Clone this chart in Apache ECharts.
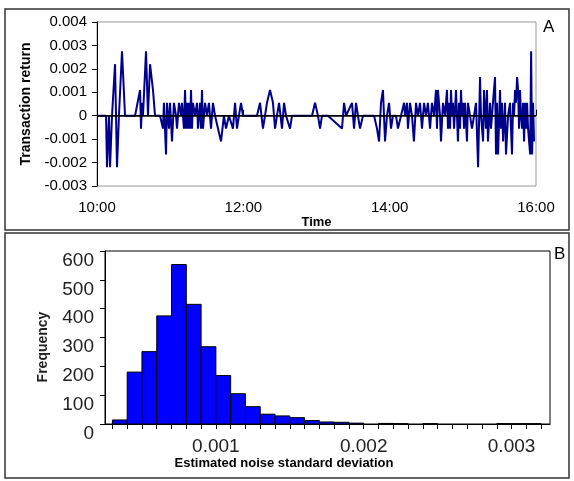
<!DOCTYPE html>
<html>
<head>
<meta charset="utf-8">
<script src="https://cdn.jsdelivr.net/npm/echarts@6/dist/echarts.min.js"></script>
<style>
  html, body { margin: 0; padding: 0; background: #fff; }
  #main { width: 574px; height: 481px; }
</style>
</head>
<body>
<div id="main"></div>
<script>
// panel A: [minutes after 10:00, transaction return]
var tradeReturns = [
  [0, 0], [7.4, 0], [8.2, -0.0022], [9.8, 0], [10.7, -0.0022], [12.3, 0],
  [14.8, 0.0022], [15.6, 0], [16.4, -0.0022], [18.0, 0], [20.5, 0.00275], [23.0, 0],
  [31.2, 0], [35.3, 0.0011], [36.1, -0.00055], [36.9, 0.00055], [37.7, 0],
  [40.2, 0.00275], [41.8, 0], [43.5, 0.0022], [45.9, 0.0011], [47.6, 0], [51.7, 0],
  [54.1, -0.00055], [54.9, 0.00055], [56.6, -0.00165], [57.4, 0.00055], [59.0, -0.00055],
  [59.9, 0.00055], [61.5, -0.0011], [63.1, 0.00055], [64.8, 0], [65.6, -0.00055],
  [67.2, 0.00055], [68.9, 0], [69.7, 0.00055], [71.3, -0.00055], [72.2, 0.0011],
  [73.0, -0.00055], [73.8, 0.00055], [74.6, -0.00055], [75.4, 0.00055], [76.3, -0.00055],
  [77.1, 0.0011], [77.9, -0.00055], [78.7, 0.00055], [80.4, 0], [82.0, 0.00055],
  [82.8, -0.00055], [84.5, 0.00055], [85.3, -0.00055], [86.1, 0.0011], [86.9, -0.00055],
  [88.6, 0.00055], [90.2, 0], [91.8, 0.00055], [93.5, -0.00055], [95.1, 0.00055],
  [96.8, 0], [101.7, -0.0011], [104.1, 0], [105.8, -0.00055], [108.2, 0],
  [111.5, -0.00055], [113.2, 0.00055], [114.8, -0.00055], [116.4, 0], [118.1, 0.00055],
  [119.7, 0], [131.2, 0], [133.7, 0.00055], [136.1, -0.00055], [139.4, 0.00055],
  [141.9, 0.0011], [144.3, 0.00055], [146.0, -0.00055], [147.6, 0], [149.3, 0.00055],
  [151.7, -0.00055], [153.4, 0.00055], [155.0, 0], [158.3, -0.00055], [159.9, 0],
  [176.3, 0], [178.8, 0.00055], [181.2, 0], [182.9, -0.00055], [184.5, 0], [189.4, 0],
  [200.9, -0.00055], [202.6, 0.00055], [204.2, 0], [209.1, 0.00055], [210.8, -0.00055],
  [212.4, 0.00055], [214.0, 0], [215.7, -0.00055], [218.1, 0], [227.2, 0],
  [229.6, -0.00055], [231.3, -0.0011], [232.9, 0.00055], [234.5, 0.0011], [236.2, -0.0011],
  [237.8, 0], [239.5, 0.00055], [241.1, -0.00055], [242.7, 0], [245.2, 0],
  [246.8, -0.00055], [249.3, 0], [251.8, 0.00055], [252.6, 0], [254.2, 0.00055],
  [255.0, -0.00055], [256.7, 0.00055], [258.3, 0], [259.9, -0.0011], [261.6, 0.00055],
  [263.2, 0], [264.9, 0.00055], [266.5, -0.00055], [268.2, 0.00055], [269.8, 0],
  [271.4, 0.00055], [273.1, -0.00055], [274.7, 0.00055], [276.4, 0], [278.0, 0.0011],
  [278.8, -0.00055], [279.6, 0.0011], [281.3, 0], [282.1, -0.0011], [283.7, 0.00055],
  [285.4, 0], [287.0, 0.0011], [287.8, -0.00055], [288.7, 0.00055], [289.5, -0.00055],
  [290.3, 0.0011], [291.1, 0], [291.9, 0.00055], [292.8, -0.00055], [294.4, 0.0011],
  [295.2, 0], [296.0, -0.0011], [296.9, 0.00055], [297.7, -0.00055], [298.5, 0.0011],
  [299.3, 0], [300.1, 0.00055], [301.0, -0.00055], [301.8, 0.00055], [303.4, -0.0011],
  [304.2, 0.00055], [305.9, 0], [307.5, -0.00055], [309.2, 0], [310.8, 0.00055],
  [312.5, -0.0022], [314.1, 0.00165], [314.9, 0], [316.6, -0.0011], [317.4, 0.0011],
  [319.0, -0.00055], [319.8, 0.0011], [320.6, -0.0011], [322.3, 0.00055], [323.1, -0.00055],
  [324.7, 0.00055], [326.4, 0.00165], [327.2, -0.00165], [328.0, 0.00055], [328.9, -0.00165],
  [330.5, 0.0011], [331.3, -0.00055], [332.1, 0.00055], [333.0, -0.0011], [334.6, 0.00055],
  [335.4, -0.00165], [337.1, 0], [338.7, 0.00055], [339.5, -0.00055], [340.3, -0.00165],
  [341.2, 0.00055], [342.0, 0], [342.8, 0.0011], [343.6, 0.00055], [344.5, 0.00165],
  [345.3, 0.0011], [346.1, -0.00055], [346.9, 0.0011], [347.7, 0], [348.6, -0.00055],
  [349.4, 0.00055], [350.2, -0.0011], [351.0, 0.00055], [351.9, -0.00055], [352.7, 0.00055],
  [353.5, -0.00055], [355.2, -0.00165], [356.0, 0.00275], [356.8, -0.00165], [357.6, 0.00055],
  [358.4, -0.0011]
];
var timeTicks = [0, 120, 240, 360];
var timeLabels = ['10:00', '12:00', '14:00', '16:00'];

// panel B: histogram
var binStart = [0.0003, 0.0004, 0.0005, 0.0006, 0.0007, 0.0008, 0.0009, 0.0010, 0.0011, 0.0012,
  0.0013, 0.0014, 0.0015, 0.0016, 0.0017, 0.0018, 0.0019, 0.0021, 0.0022, 0.0024,
  0.0029, 0.0030, 0.0031];
var binCount = [14, 180, 251, 375, 553, 415, 268, 168, 105, 60,
  34, 28, 22, 12, 7, 6, 3, 2, 1, 1,
  1, 1, 1];
var binWidth = 0.0001;
var histTicks = [];
for (var k = 3; k <= 32; k++) histTicks.push(k / 10000);
var histLabels = [0.001, 0.002, 0.003];

var histData = binStart.map(function (s, i) { return [s, s + binWidth, binCount[i]]; });

var myChart = echarts.init(document.getElementById('main'), null, { renderer: 'canvas' });

var option = {
  animation: false,
  backgroundColor: '#fff',
  textStyle: { fontFamily: 'Liberation Sans' },
  graphic: [
    { type: 'rect', shape: { x: 5, y: 9, width: 564, height: 221 }, style: { fill: null, stroke: '#333', lineWidth: 1.5 } },
    { type: 'rect', shape: { x: 5, y: 233, width: 564, height: 245 }, style: { fill: null, stroke: '#333', lineWidth: 1.5 } },
    { type: 'text', left: 543, top: 19, style: { text: 'A', font: '17px Liberation Sans', fill: '#000' } },
    { type: 'text', left: 554, top: 246, style: { text: 'B', font: '17px Liberation Sans', fill: '#000' } },
    { type: 'text', x: 284, y: 463, style: { text: 'Estimated noise standard deviation', font: 'bold 13px Liberation Sans', fill: '#000', align: 'center', verticalAlign: 'middle' } },
    { type: 'text', x: 43, y: 347, rotation: Math.PI / 2, style: { text: 'Frequency', font: 'bold 14px Liberation Sans', fill: '#222', align: 'center', verticalAlign: 'middle' } }
  ],
  grid: [
    { left: 97, top: 22, width: 439, height: 164, show: true, borderColor: '#999', borderWidth: 1 },
    { left: 105, top: 251, width: 445, height: 173, show: true, borderColor: '#000', borderWidth: 1 }
  ],
  xAxis: [
    {
      gridIndex: 0, type: 'value', min: 0, max: 360, interval: 120,
      name: 'Time', nameLocation: 'middle', nameGap: 29,
      nameTextStyle: { fontWeight: 'bold', fontSize: 13, color: '#000' },
      axisLine: { lineStyle: { color: '#000', width: 1 } },
      axisTick: { inside: true, length: 6, lineStyle: { color: '#000' } },
      axisLabel: {
        fontSize: 15, color: '#000', margin: 14,
        formatter: function (v) { return timeLabels[timeTicks.indexOf(v)] || ''; }
      },
      splitLine: { show: false }
    },
    {
      gridIndex: 1, type: 'value', min: 0.00025, max: 0.00326,
      axisLine: { lineStyle: { color: '#000', width: 1 } },
      axisTick: { customValues: histTicks, length: 5, lineStyle: { color: '#000' } },
      axisLabel: {
        customValues: histLabels, fontSize: 19, color: '#222', margin: 13,
        formatter: function (v) { return v.toFixed(3); }
      },
      splitLine: { show: false }
    }
  ],
  yAxis: [
    {
      gridIndex: 0, type: 'value', min: -0.003, max: 0.004, interval: 0.001,
      name: 'Transaction return', nameLocation: 'middle', nameGap: 62,
      nameTextStyle: { fontWeight: 'bold', fontSize: 14, color: '#000' },
      axisLine: { show: true, lineStyle: { color: '#000', width: 1 } },
      axisTick: { show: true, length: 5, lineStyle: { color: '#000' } },
      axisLabel: {
        fontSize: 15, color: '#000', margin: 10,
        formatter: function (v) { return Math.abs(v) < 1e-9 ? '0' : v.toFixed(3); }
      },
      splitLine: { show: false }
    },
    {
      gridIndex: 1, type: 'value', min: 0, max: 600, interval: 100,
      axisLine: { show: true, lineStyle: { color: '#000', width: 1 } },
      axisTick: { show: true, length: 5, lineStyle: { color: '#000' } },
      axisLabel: { fontSize: 19, color: '#222', margin: 11, verticalAlign: 'top' },
      splitLine: { show: false }
    }
  ],
  series: [
    {
      type: 'line', xAxisIndex: 0, yAxisIndex: 0,
      data: tradeReturns,
      symbol: 'none',
      lineStyle: { color: '#00008B', width: 2 },
      markLine: {
        silent: true, symbol: 'none', label: { show: false },
        lineStyle: { color: '#000', width: 1.5, type: 'solid' },
        data: [{ yAxis: 0 }]
      }
    },
    {
      type: 'custom', xAxisIndex: 1, yAxisIndex: 1,
      data: histData,
      encode: { x: [0, 1], y: 2 },
      renderItem: function (params, api) {
        var p0 = api.coord([api.value(0), api.value(2)]);
        var p1 = api.coord([api.value(1), 0]);
        return {
          type: 'rect',
          shape: { x: p0[0], y: p0[1], width: p1[0] - p0[0], height: p1[1] - p0[1] },
          style: { fill: '#0000FF', stroke: '#000', lineWidth: 1 }
        };
      }
    }
  ]
};

myChart.setOption(option);
</script>
</body>
</html>
